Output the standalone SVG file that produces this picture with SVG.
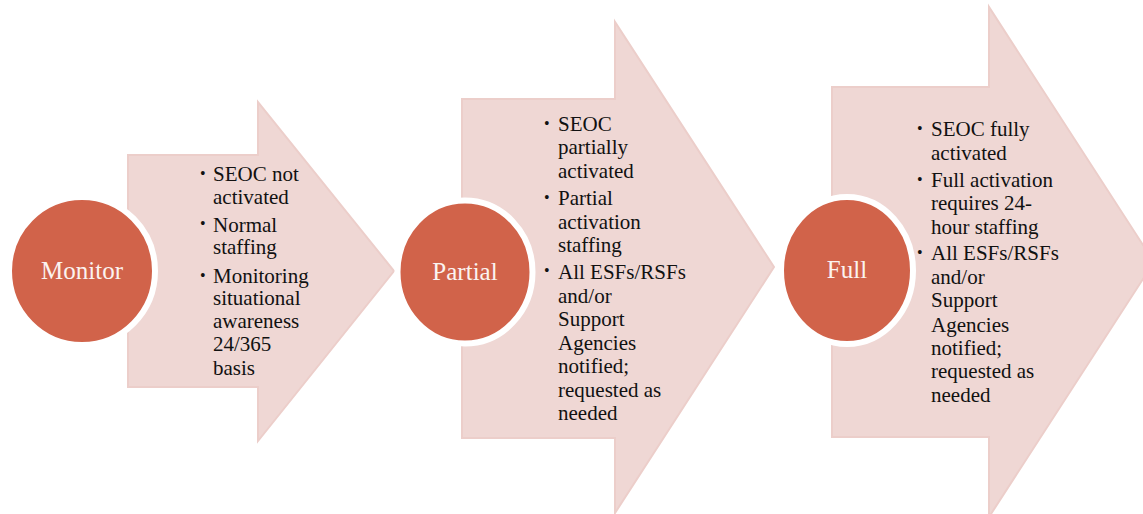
<svg xmlns="http://www.w3.org/2000/svg" width="1143" height="514" viewBox="0 0 1143 514">
<style>
.arrow{fill:#EFD7D4;stroke:#ECCECA;stroke-width:2;stroke-linejoin:miter}
.circ{fill:#D1634A;stroke:#FFFFFF;stroke-width:6}
.lbl{font-family:"Liberation Serif",serif;font-size:25px;fill:#FBF3F0;text-anchor:middle}
.txt{font-family:"Liberation Serif",serif;font-size:21px;fill:#111111}
.bul{font-family:"Liberation Serif",serif;font-size:16px;fill:#111111}
</style>
<rect width="1143" height="514" fill="#FFFFFF"/>
<g id="connectors">
<path class="arrow" d="M128,155 H258 V102 L394,271 L258,441 V387 H128 Z"/>
<path class="arrow" d="M462,99 H615 V22 L774,267 L615,513 V438 H462 Z"/>
<path class="arrow" d="M832,87 H989 V7 L1154,262 L989,517 V437 H832 Z"/>
</g>
<g id="monitor">
<ellipse class="circ" cx="82" cy="271" rx="73" ry="74"/>
<text class="lbl" x="82" y="279">Monitor</text>
<text class="bul" x="200" y="179">•</text>
<text class="bul" x="200" y="229">•</text>
<text class="bul" x="200" y="281">•</text>
<text class="txt" x="213" y="181">SEOC not</text>
<text class="txt" x="213" y="203.5">activated</text>
<text class="txt" x="213" y="231.5">Normal</text>
<text class="txt" x="213" y="254">staffing</text>
<text class="txt" x="213" y="283">Monitoring</text>
<text class="txt" x="213" y="305">situational</text>
<text class="txt" x="213" y="328">awareness</text>
<text class="txt" x="213" y="351">24/365</text>
<text class="txt" x="213" y="375">basis</text>
</g>
<g id="partial">
<ellipse class="circ" cx="465" cy="272" rx="67.5" ry="71.5"/>
<text class="lbl" x="465" y="280">Partial</text>
<text class="bul" x="544" y="129">•</text>
<text class="bul" x="544" y="203">•</text>
<text class="bul" x="544" y="276">•</text>
<text class="txt" x="558" y="131">SEOC</text>
<text class="txt" x="558" y="154">partially</text>
<text class="txt" x="558" y="177.5">activated</text>
<text class="txt" x="558" y="205">Partial</text>
<text class="txt" x="558" y="228.5">activation</text>
<text class="txt" x="558" y="252">staffing</text>
<text class="txt" x="558" y="278.5">All ESFs/RSFs</text>
<text class="txt" x="558" y="302.5">and/or</text>
<text class="txt" x="558" y="326">Support</text>
<text class="txt" x="558" y="350">Agencies</text>
<text class="txt" x="558" y="373">notified;</text>
<text class="txt" x="558" y="397">requested as</text>
<text class="txt" x="558" y="419.5">needed</text>
</g>
<g id="full">
<ellipse class="circ" cx="847" cy="270.5" rx="66" ry="73.5"/>
<text class="lbl" x="847" y="278">Full</text>
<text class="bul" x="917" y="134">•</text>
<text class="bul" x="917" y="185">•</text>
<text class="bul" x="917" y="258">•</text>
<text class="txt" x="931" y="136">SEOC fully</text>
<text class="txt" x="931" y="160">activated</text>
<text class="txt" x="931" y="187">Full activation</text>
<text class="txt" x="931" y="210">requires 24-</text>
<text class="txt" x="931" y="233.5">hour staffing</text>
<text class="txt" x="931" y="260">All ESFs/RSFs</text>
<text class="txt" x="931" y="284">and/or</text>
<text class="txt" x="931" y="307">Support</text>
<text class="txt" x="931" y="331.5">Agencies</text>
<text class="txt" x="931" y="355">notified;</text>
<text class="txt" x="931" y="378">requested as</text>
<text class="txt" x="931" y="402">needed</text>
</g>
</svg>
